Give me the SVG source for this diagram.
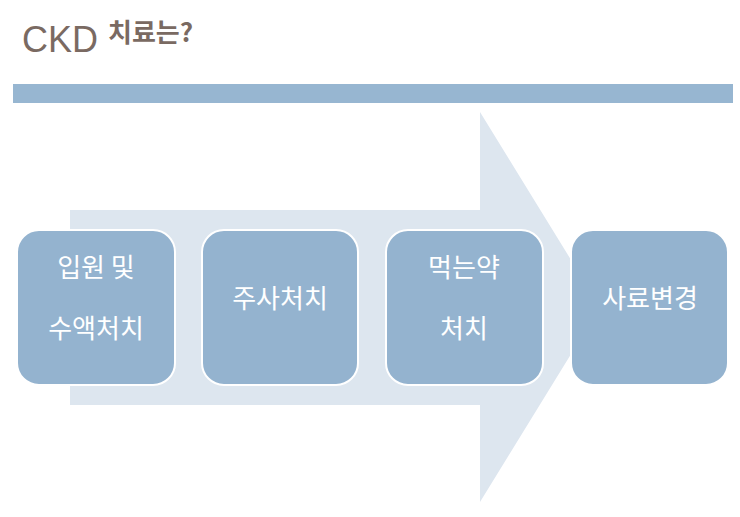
<svg xmlns="http://www.w3.org/2000/svg" width="740" height="517" viewBox="0 0 740 517">
<style>
.box{fill:#94b3cf;stroke:#ffffff;stroke-width:2}
.t{fill:#ffffff;font-family:"Noto Sans CJK KR",sans-serif;font-size:26px;text-anchor:middle}
</style>
<rect width="740" height="517" fill="#ffffff"/>
<text x="22" y="52" font-family="Liberation Sans,sans-serif" font-size="36" fill="#7a6a62">CKD <tspan font-family="Noto Sans CJK KR,sans-serif" font-size="26" font-weight="bold" dy="-10">치료는?</tspan></text>
<rect x="13" y="84" width="720" height="19" fill="#97b6d1"/>
<g id="connectors">
<polygon points="70,210 480,210 480,112 600,307 480,502 480,405 70,405" fill="#dde6ef"/>
</g>
<g id="n1"><rect class="box" x="17" y="230" width="158" height="155" rx="22"/><text class="t" x="96" y="277">입원 및</text><text class="t" x="96" y="338">수액처치</text></g>
<g id="n2"><rect class="box" x="202" y="230" width="156" height="155" rx="22"/><text class="t" x="280" y="308">주사처치</text></g>
<g id="n3"><rect class="box" x="386" y="230" width="157" height="155" rx="22"/><text class="t" x="464" y="277">먹는약</text><text class="t" x="464" y="338">처치</text></g>
<g id="n4"><rect class="box" x="571" y="230" width="157" height="155" rx="22"/><text class="t" x="650" y="308">사료변경</text></g>
</svg>
